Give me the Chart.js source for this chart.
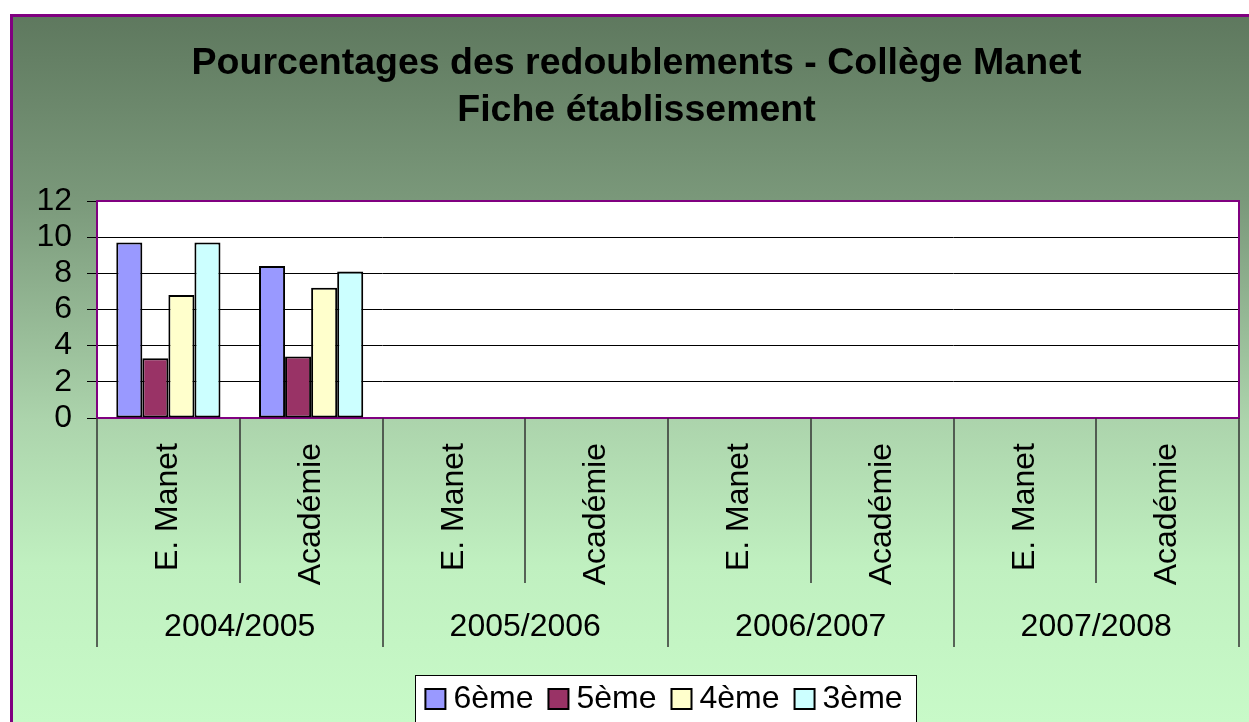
<!DOCTYPE html>
<html>
<head>
<meta charset="utf-8">
<title>Pourcentages des redoublements</title>
<script src="https://cdn.jsdelivr.net/npm/chart.js@4.4.0/dist/chart.umd.min.js"></script>
<style>
  html, body { margin: 0; padding: 0; background: #fff; }
  #wrap { width: 1249px; height: 722px; position: relative; }
</style>
</head>
<body>
<div id="wrap"><canvas id="chart"></canvas></div>
<script>
// categories (two levels: établissement / année)
var categories = ['E. Manet', 'Académie', 'E. Manet', 'Académie', 'E. Manet', 'Académie', 'E. Manet', 'Académie'];
var years = ['2004/2005', '2005/2006', '2006/2007', '2007/2008'];

// series values (%)
var sixieme = [9.7, 8.4, null, null, null, null, null, null];
var cinquieme = [3.3, 3.4, null, null, null, null, null, null];
var quatrieme = [6.8, 7.2, null, null, null, null, null, null];
var troisieme = [9.7, 8.1, null, null, null, null, null, null];

var seriesNames = ['6ème', '5ème', '4ème', '3ème'];
var seriesColors = ['#9999ff', '#993366', '#ffffcc', '#ccffff'];

var yMin = 0, yMax = 12, yStep = 2;

var FONT = '"Liberation Sans", Arial, sans-serif';
Chart.defaults.font.family = FONT;
Chart.defaults.color = '#000';

// background, plot area, legend frame, two level x axis
var decorPlugin = {
	id: 'decor',
	beforeDraw: function(chart) {
		var ctx = chart.ctx, a = chart.chartArea;
		ctx.save();
		ctx.fillStyle = '#fff';
		ctx.fillRect(0, 0, chart.width, chart.height);

		var g = ctx.createLinearGradient(0, 14, 0, 722);
		g.addColorStop(0, '#5e785e');
		g.addColorStop(0.26, '#7a987a');
		g.addColorStop(0.575, '#acd4ac');
		g.addColorStop(0.78, '#c0f0c0');
		g.addColorStop(1, '#c8fac8');
		ctx.fillStyle = g;
		ctx.fillRect(10, 14, chart.width, chart.height);

		ctx.strokeStyle = '#800080';
		ctx.lineWidth = 3;
		ctx.strokeRect(11.5, 15.5, chart.width + 20, chart.height + 20);

		ctx.fillStyle = '#fff';
		ctx.fillRect(a.left, a.top, a.right - a.left, a.bottom - a.top);

		// legend frame
		var lg = chart.legend;
		if (lg && lg.lineWidths) {
			var pad = lg.options.labels.padding;
			var lw = lg.lineWidths[0];
			var x0 = (lg.left + pad + lg.right - lw) / 2;
			var bx = Math.round(x0 - 18) + 0.5;
			var bw = Math.round(lw - pad + 32);
			var by = Math.round(lg.top + pad + 16 - 24) + 0.5;
			ctx.fillStyle = '#fff';
			ctx.fillRect(bx, by, bw, chart.height);
			ctx.strokeStyle = '#000';
			ctx.lineWidth = 1;
			ctx.strokeRect(bx, by, bw, chart.height);
		}
		ctx.restore();
	},
	beforeDatasetsDraw: function(chart) {
		var ctx = chart.ctx, a = chart.chartArea;
		ctx.save();
		ctx.strokeStyle = '#800080';
		ctx.lineWidth = 2;
		ctx.strokeRect(a.left, a.top, a.right - a.left, a.bottom - a.top);
		ctx.restore();
	},
	afterDraw: function(chart) {
		var ctx = chart.ctx, a = chart.chartArea, xs = chart.scales.x;
		ctx.save();
		ctx.strokeStyle = '#333';
		ctx.lineWidth = 1.5;
		for (var i = 0; i <= categories.length; i++) {
			var px = Math.round(xs.getPixelForValue(i - 0.5));
			var end = (i % 2 === 0) ? a.bottom + 229 : a.bottom + 165;
			ctx.beginPath();
			ctx.moveTo(px, a.bottom);
			ctx.lineTo(px, end);
			ctx.stroke();
		}
		ctx.fillStyle = '#000';
		ctx.font = '32px ' + FONT;
		ctx.textAlign = 'center';
		ctx.textBaseline = 'middle';
		years.forEach(function(y, j) {
			ctx.fillText(y, xs.getPixelForValue(2 * j + 0.5), a.bottom + 209);
		});
		ctx.restore();
	}
};

var seriesData = [sixieme, cinquieme, quatrieme, troisieme];

new Chart(document.getElementById('chart'), {
	type: 'bar',
	data: {
		labels: categories,
		datasets: seriesData.map(function(d, i) {
			return {
				label: seriesNames[i],
				data: d,
				backgroundColor: seriesColors[i],
				borderColor: '#000',
				borderWidth: 2,
				borderSkipped: false,
				categoryPercentage: 0.73,
				barPercentage: 1
			};
		})
	},
	options: {
		responsive: true,
		maintainAspectRatio: false,
		animation: false,
		devicePixelRatio: 1,
		layout: { padding: { left: 34, right: 10, top: 0, bottom: -3 } },
		plugins: {
			tooltip: { enabled: false },
			title: {
				display: true,
				text: ['Pourcentages des redoublements - Collège Manet', 'Fiche établissement'],
				color: '#000',
				font: { size: 37.5, weight: 'bold', lineHeight: 1.25 },
				padding: { top: 40, bottom: 67.25 }
			},
			legend: {
				position: 'bottom',
				fullSize: false,
				labels: {
					usePointStyle: true,
					pointStyle: 'rect',
					boxWidth: 4,
					boxHeight: 20,
					padding: 23,
					color: '#000',
					font: { size: 32 }
				}
			}
		},
		scales: {
			x: {
				grid: { display: false, drawTicks: false, tickLength: 0 },
				border: { display: false },
				ticks: {
					autoSkip: false,
					minRotation: 90,
					maxRotation: 90,
					padding: 25,
					font: { size: 32 }
				},
				afterFit: function(scale) { scale.height = 242; }
			},
			y: {
				min: yMin,
				max: yMax,
				grid: { color: '#000', lineWidth: 1, tickLength: 10 },
				border: { display: false },
				ticks: { stepSize: yStep, autoSkip: false, padding: 15, font: { size: 32 } },
				afterFit: function(scale) { scale.width = 63; }
			}
		}
	},
	plugins: [decorPlugin]
});
</script>
</body>
</html>
